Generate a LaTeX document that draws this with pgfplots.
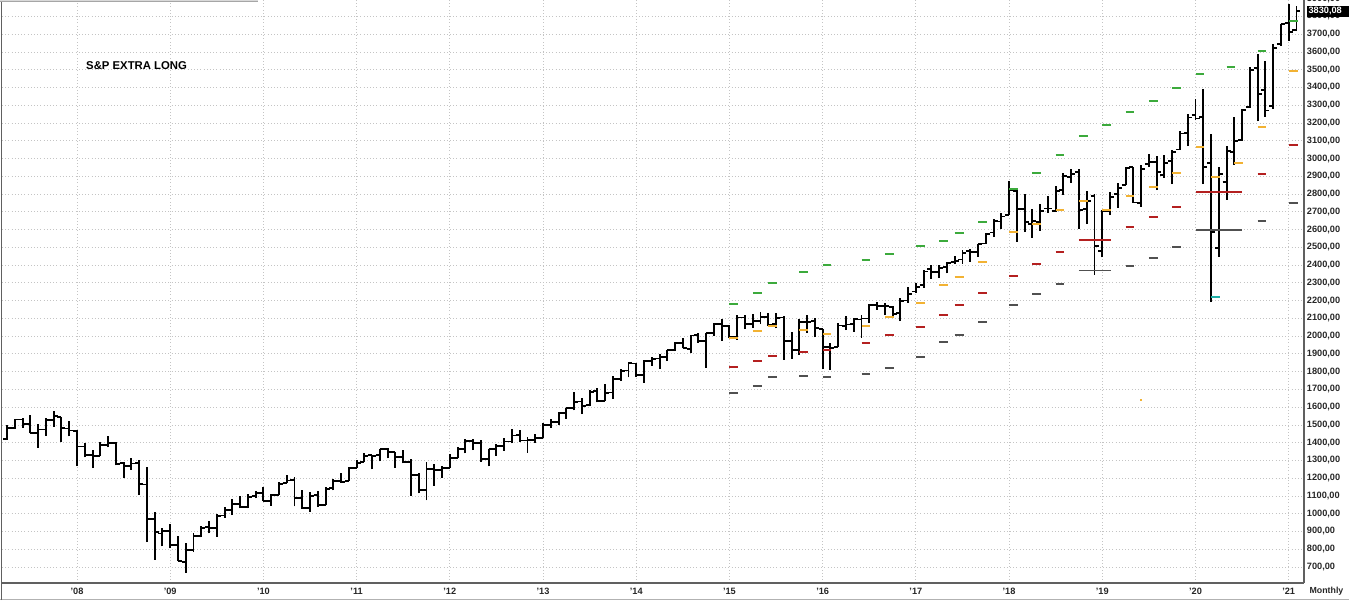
\documentclass[border=0pt]{standalone}
\usepackage{pgfplots}
\pgfplotsset{compat=1.18}
\usepackage{pgfplotstable}
\usepackage{fontspec}
\setmainfont{Liberation Sans}
\definecolor{lvgreen}{HTML}{3CAA3C}
\definecolor{lvorange}{HTML}{F2B233}
\definecolor{lvred}{HTML}{B42020}
\definecolor{lvgray}{HTML}{505050}
\definecolor{lvcyan}{HTML}{20B0A8}
\definecolor{gridc}{HTML}{C4C4C4}
\pgfdeclareplotmark{lt}{\pgfpathmoveto{\pgfqpoint{-\pgfplotmarksize}{0pt}}\pgfpathlineto{\pgfqpoint{0pt}{0pt}}\pgfusepathqstroke}
\pgfdeclareplotmark{rt}{\pgfpathmoveto{\pgfqpoint{0pt}{0pt}}\pgfpathlineto{\pgfqpoint{\pgfplotmarksize}{0pt}}\pgfusepathqstroke}
\pgfplotstableread{
m o h l c
-9 1420.8 1498.0 1416.4 1482.4
-8 1482.4 1535.6 1476.7 1530.6
-7 1530.6 1540.6 1484.2 1503.4
-6 1504.7 1555.9 1454.3 1455.3
-5 1455.2 1503.9 1370.6 1474.0
-4 1474.0 1538.7 1439.3 1526.8
-3 1527.3 1576.1 1489.6 1549.4
-2 1545.8 1545.8 1406.1 1481.1
-1 1479.6 1523.6 1435.7 1468.4
0 1468.0 1471.8 1270.1 1378.6
1 1378.6 1396.0 1316.8 1330.6
2 1330.5 1359.7 1257.0 1322.7
3 1326.4 1404.0 1324.4 1385.6
4 1386.0 1440.2 1373.1 1400.4
5 1399.6 1404.1 1272.0 1280.0
6 1284.9 1292.2 1200.4 1267.4
7 1269.4 1313.2 1247.5 1282.8
8 1287.8 1303.0 1106.4 1166.4
9 1164.2 1264.8 839.8 968.8
10 968.7 1007.5 741.0 896.2
11 888.6 918.9 815.7 903.3
12 903.0 943.9 804.2 825.9
13 823.1 875.0 734.5 735.1
14 729.6 833.0 666.8 797.9
15 793.6 888.7 783.3 872.8
16 872.7 930.2 866.1 919.1
17 923.3 956.2 888.9 919.3
18 920.8 996.7 869.3 987.5
19 990.2 1039.5 978.5 1020.6
20 1019.5 1080.2 992.0 1057.1
21 1054.9 1101.4 1029.4 1036.2
22 1036.2 1113.7 1029.4 1095.6
23 1098.9 1130.4 1085.9 1115.1
24 1116.6 1150.5 1071.6 1073.9
25 1073.9 1112.4 1044.5 1104.5
26 1105.4 1180.7 1105.4 1169.4
27 1171.2 1219.8 1170.7 1186.7
28 1188.6 1205.1 1040.8 1089.4
29 1087.3 1131.2 1028.3 1030.7
30 1031.1 1121.0 1010.9 1101.6
31 1107.5 1129.2 1039.7 1049.3
32 1049.7 1148.7 1048.2 1141.2
33 1143.5 1196.1 1131.9 1183.3
34 1185.7 1227.1 1173.0 1180.6
35 1186.6 1262.6 1186.6 1257.6
36 1257.6 1302.7 1257.6 1286.1
37 1289.1 1344.1 1289.1 1327.2
38 1328.6 1332.3 1249.1 1325.8
39 1329.5 1364.6 1294.7 1363.6
40 1365.2 1370.6 1311.8 1345.2
41 1345.2 1345.2 1258.1 1320.6
42 1320.6 1356.5 1282.9 1292.3
43 1292.6 1307.4 1101.5 1218.9
44 1219.1 1229.3 1114.2 1131.4
45 1131.2 1292.7 1074.8 1253.3
46 1251.0 1277.6 1158.7 1247.0
47 1246.9 1269.4 1202.4 1257.6
48 1258.9 1333.5 1258.9 1312.4
49 1312.5 1378.0 1312.5 1365.7
50 1365.9 1419.2 1340.0 1408.5
51 1408.5 1422.4 1357.4 1397.9
52 1397.9 1415.3 1292.0 1310.3
53 1309.9 1363.5 1266.7 1362.2
54 1362.3 1391.7 1325.4 1379.3
55 1379.3 1426.7 1354.6 1406.6
56 1406.5 1474.5 1396.6 1440.7
57 1440.9 1471.0 1403.3 1412.2
58 1412.2 1434.3 1343.4 1416.2
59 1416.2 1448.0 1398.1 1426.2
60 1426.2 1509.9 1426.2 1498.1
61 1498.1 1530.9 1485.0 1514.7
62 1514.7 1570.3 1501.5 1569.2
63 1569.2 1597.6 1536.0 1597.6
64 1597.6 1687.2 1581.3 1630.7
65 1631.7 1654.2 1560.3 1606.3
66 1609.8 1698.8 1604.6 1685.7
67 1689.4 1709.7 1627.5 1633.0
68 1636.0 1729.9 1633.4 1681.6
69 1682.4 1775.2 1646.5 1756.5
70 1758.7 1813.6 1746.2 1805.8
71 1806.6 1849.4 1768.0 1848.4
72 1845.9 1850.8 1770.5 1782.6
73 1782.7 1867.9 1737.9 1859.5
74 1857.7 1884.0 1834.4 1872.3
75 1874.0 1897.3 1814.4 1884.0
76 1884.4 1924.0 1859.8 1923.6
77 1923.9 1968.2 1916.0 1960.2
78 1962.3 1991.4 1930.7 1930.7
79 1929.8 2005.0 1904.8 2003.4
80 2004.1 2019.3 1964.0 1972.3
81 1971.4 2018.2 1820.7 2018.1
82 2018.2 2075.8 2001.0 2067.6
83 2065.8 2093.6 1972.6 2058.9
84 2058.9 2064.4 1988.4 1995.0
85 1996.7 2119.6 1980.9 2104.5
86 2105.2 2117.5 2039.7 2067.9
87 2067.6 2125.9 2048.4 2085.5
88 2087.4 2134.7 2067.9 2107.4
89 2108.6 2129.9 2056.3 2063.1
90 2067.0 2132.8 2044.0 2104.0
91 2104.5 2112.7 1867.0 1972.2
92 1970.1 2020.9 1871.9 1920.0
93 1919.7 2094.3 1893.7 2079.4
94 2080.8 2116.5 2019.4 2080.4
95 2082.9 2104.3 1993.3 2043.9
96 2038.2 2038.2 1812.3 1940.2
97 1936.9 1963.0 1810.1 1932.2
98 1937.1 2072.2 1937.1 2059.7
99 2056.6 2111.1 2033.8 2065.3
100 2067.2 2103.5 2025.9 2097.0
101 2093.9 2120.6 1991.7 2098.9
102 2099.3 2178.3 2074.0 2173.6
103 2173.2 2193.8 2147.6 2171.0
104 2171.3 2187.9 2119.1 2168.3
105 2164.3 2169.6 2114.7 2126.2
106 2128.7 2214.1 2083.8 2199.0
107 2200.2 2277.5 2187.4 2238.8
108 2251.6 2301.0 2245.1 2278.9
109 2285.6 2371.5 2271.7 2363.6
110 2380.1 2401.0 2322.3 2362.7
111 2362.3 2398.2 2329.0 2384.2
112 2388.5 2418.7 2352.7 2411.8
113 2415.6 2453.8 2405.7 2423.4
114 2431.4 2484.0 2407.7 2470.3
115 2477.1 2490.9 2417.4 2471.7
116 2474.4 2519.4 2446.6 2519.4
117 2521.2 2583.0 2520.4 2575.3
118 2583.2 2657.7 2557.5 2647.6
119 2645.1 2695.0 2605.5 2673.6
120 2683.7 2872.9 2682.4 2823.8
121 2816.5 2836.0 2532.7 2713.8
122 2715.2 2801.9 2585.9 2640.9
123 2633.5 2717.5 2553.8 2648.1
124 2643.0 2742.2 2594.6 2705.3
125 2718.7 2791.5 2692.0 2718.4
126 2705.0 2848.0 2699.0 2816.3
127 2821.2 2916.5 2796.3 2901.5
128 2897.0 2940.9 2864.1 2914.0
129 2926.3 2939.9 2603.5 2711.7
130 2717.6 2815.2 2631.1 2760.2
131 2790.5 2800.2 2346.6 2506.9
132 2477.0 2709.0 2444.0 2704.1
133 2702.3 2813.5 2681.8 2784.5
134 2798.2 2860.3 2722.3 2834.4
135 2848.6 2949.5 2848.6 2945.8
136 2952.3 2954.1 2750.5 2752.1
137 2751.5 2964.2 2728.8 2941.8
138 2971.4 3028.0 2952.2 2980.4
139 2980.3 3013.6 2822.1 2926.5
140 2909.0 3022.0 2891.9 2976.7
141 2983.7 3050.1 2855.9 3037.6
142 3050.7 3154.3 3050.7 3141.0
143 3143.9 3247.9 3070.3 3230.8
144 3244.7 3337.8 3214.6 3225.5
145 3235.7 3393.5 2855.8 2954.2
146 2974.3 3136.7 2191.9 2584.6
147 2498.1 2954.9 2447.5 2912.4
148 2869.1 3068.7 2766.6 3044.3
149 3038.8 3233.1 2965.7 3100.3
150 3105.9 3280.0 3101.2 3271.1
151 3288.3 3514.8 3284.5 3500.3
152 3507.4 3588.1 3209.5 3363.0
153 3385.9 3549.9 3233.9 3270.0
154 3296.2 3646.0 3279.7 3621.6
155 3645.9 3760.2 3633.4 3756.1
156 3764.6 3870.9 3662.7 3714.2
157 3722.0 3860.0 3718.0 3830.08
}\ohlc
\pgfplotstableread{
m v
84 2179
87 2244
89 2297
93 2361
96 2399
101 2429
104 2462
108 2505
111 2537
113 2581
116 2644
120 2828
123 2917
126 3020
129 3127
132 3191
135 3262
138 3326
141 3397
144 3478
148 3517
152 3607
156 3776
}\greenlv
\pgfplotstableread{
m v
84 1988
87 2030
89 2057
93 2034
96 2010
101 2057
104 2109
108 2185
111 2288
113 2331
116 2419
120 2585
123 2630
126 2710
129 2762
132 2708
135 2789
138 2841
141 2917
144 3067
146 2898
149 2977
152 3175
156 3493
}\orangelv
\pgfplotstableread{
m v
84 1828
87 1862
89 1888
93 1909
96 1922
101 1963
104 2005
108 2051
111 2117
113 2175
116 2244
120 2339
123 2406
126 2474
135 2613
138 2669
141 2729
152 2912
156 3075
}\redlv
\pgfplotstableread{
m v
84 1678
87 1721
89 1770
93 1774
96 1770
101 1788
104 1820
108 1881
111 1967
113 2006
116 2081
120 2175
123 2239
126 2295
135 2395
138 2441
141 2504
152 2648
156 2751
}\graylv
\begin{document}
\begin{tikzpicture}
\useasboundingbox (-1.5pt,-12.75pt) rectangle (1010.25pt,437.25pt);
\begin{axis}[
  at={(0pt,0pt)}, anchor=south west, scale only axis,
  width=976.5pt, height=437.25pt,
  xmin=-9.656, xmax=157.97, ymin=609.9, ymax=3892.6,
  clip=false,
  axis x line*=bottom, axis y line*=right,
  axis line style={draw=gray!75!black, line width=1.1pt},
  major tick length=0pt,
  xtick={0,12,...,156},
  xticklabels={'08,'09,'10,'11,'12,'13,'14,'15,'16,'17,'18,'19,'20,'21},
  ytick={700,800,...,3800},
  grid=major,
  grid style={dotted, draw=gridc, line width=0.6pt},
  /pgf/number format/assume math mode=true,
  tick label style={font=\bfseries\fontsize{6.9}{8}\selectfont, text=black!85},
  yticklabel pos=right,
  yticklabel style={anchor=west, inner sep=0pt, xshift=2pt},
  xticklabel style={anchor=north, inner sep=0pt, yshift=-3.6pt},
  yticklabel={\pgfmathprintnumber[fixed, fixed zerofill, precision=2, use comma, 1000 sep={}]{\tick}},
]
% high-low bars
\addplot[draw=none, mark=none, forget plot,
  error bars/.cd, y dir=plus, y explicit, error mark=none,
  error bar style={draw=black, solid, line width=1.45pt}]
  table[x=m, y=l, y error plus expr=\thisrow{h}-\thisrow{l}] {\ohlc};
% open ticks
\addplot[only marks, mark=lt, mark size=3pt, mark options={draw=black, solid, line width=1.4pt}] table[x=m, y=o] {\ohlc};
% close ticks
\addplot[only marks, mark=rt, mark size=3pt, mark options={draw=black, solid, line width=1.4pt}] table[x=m, y=c] {\ohlc};
% level dashes
\addplot[only marks, mark=rt, mark size=6.6pt, mark options={draw=lvgray, solid, line width=1.5pt}] table[x=m, y=v] {\graylv};
\addplot[only marks, mark=rt, mark size=6.6pt, mark options={draw=lvred, solid, line width=1.5pt}] table[x=m, y=v] {\redlv};
\addplot[only marks, mark=rt, mark size=6.6pt, mark options={draw=lvorange, solid, line width=1.5pt}] table[x=m, y=v] {\orangelv};
\addplot[only marks, mark=rt, mark size=6.6pt, mark options={draw=lvgreen, solid, line width=1.5pt}] table[x=m, y=v] {\greenlv};
\addplot[only marks, mark=rt, mark size=6.6pt, mark options={draw=lvcyan, solid, line width=1.5pt}] coordinates {(146,2222)};
\addplot[only marks, mark=rt, mark size=1.2pt, mark options={draw=lvorange, solid, line width=1pt}] coordinates {(136.9,1640)};
% long levels
\addplot[lvred, line width=1.3pt] coordinates {(129,2541) (133.1,2541)};
\addplot[lvgray, line width=1.3pt] coordinates {(129,2370) (133.1,2370)};
\addplot[lvred, line width=1.3pt] coordinates {(144,2810) (150,2810)};
\addplot[lvgray, line width=1.3pt] coordinates {(144,2598) (150,2598)};
% texts
\node[anchor=west, inner sep=0pt, font=\bfseries\fontsize{8.5}{10}\selectfont] at (rel axis cs:0.0645,0.887) {S\&P EXTRA LONG};
\node[anchor=west, inner sep=0pt, xshift=2pt, yshift=1pt, font=\bfseries\fontsize{6.9}{8}\selectfont, text=black!85] at (rel axis cs:1,1) {3900,00};
\node[anchor=west, fill=black, text=white, inner sep=1.2pt, xshift=2pt, font=\bfseries\fontsize{6.9}{8}\selectfont] at (axis cs:157.97,3830.08) {3830,08\hspace*{8pt}};
\node[anchor=west, inner sep=0pt, xshift=4pt, yshift=-6pt, font=\bfseries\fontsize{6.6}{8}\selectfont, text=black!85] at (rel axis cs:1,0) {Monthly};
\end{axis}
\draw[gray!60, line width=0.8pt] (-1.5pt,-12.1pt) -- (1010.25pt,-12.1pt);
\draw[gray!75!black, line width=0.9pt] (-0.4pt,-12.75pt) -- (-0.4pt,437.25pt);
\fill[gray!30] (-1.5pt,435.9pt) rectangle (192pt,437.25pt);
\draw[gray!70, line width=0.5pt] (-1.5pt,435.9pt) -- (192pt,435.9pt);
\end{tikzpicture}
\end{document}
